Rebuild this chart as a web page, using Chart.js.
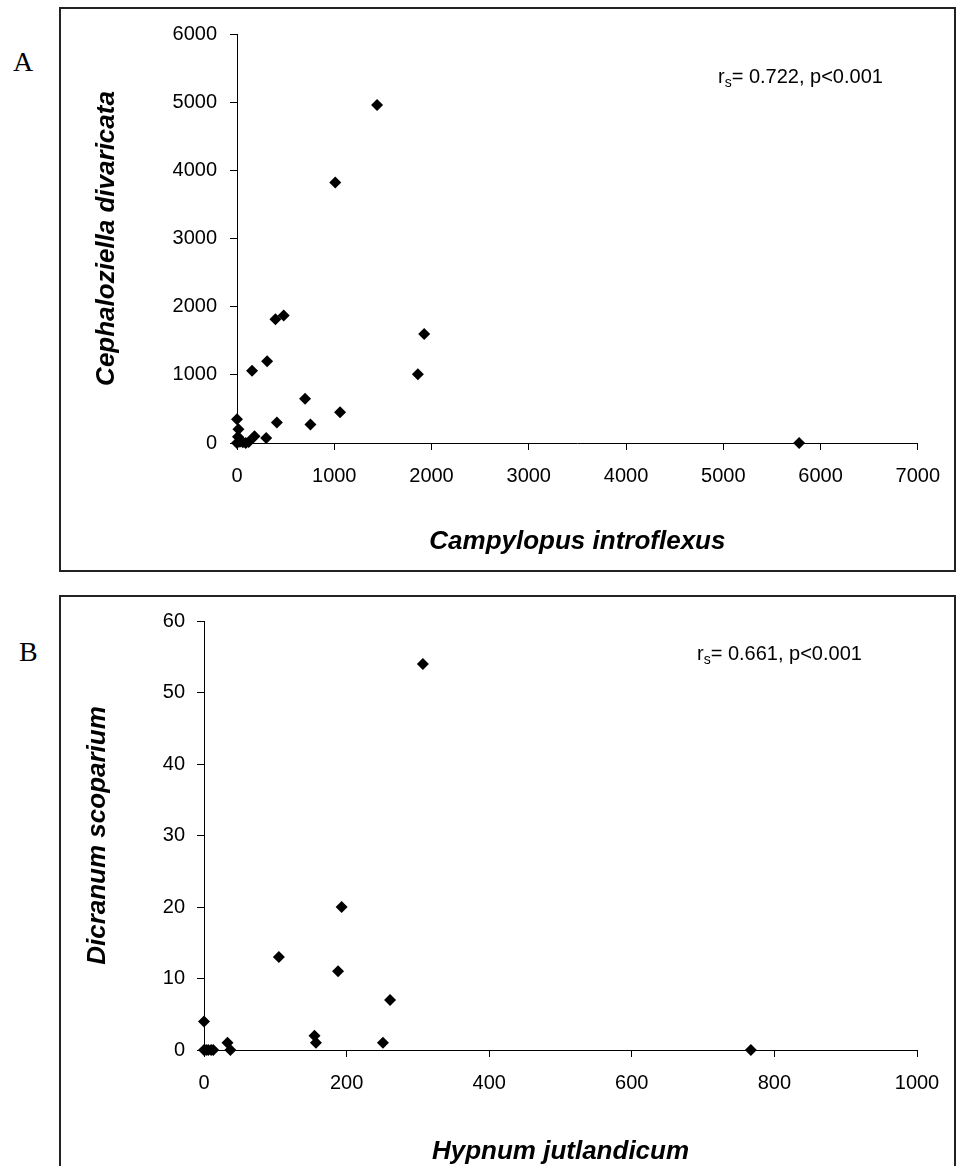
<!DOCTYPE html>
<html>
<head>
<meta charset="utf-8">
<script src="https://cdn.jsdelivr.net/npm/chart.js@4.4.0/dist/chart.umd.min.js"></script>
<style>
  html, body { margin: 0; padding: 0; background: #fff; overflow: hidden; }
  body { width: 956px; height: 1166px; position: relative; font-family: "Liberation Sans", Arial, sans-serif; }
  .panel { position: absolute; left: 59px; border: 2px solid #222; background: #fff; }
  #panelA { top: 7px; width: 893px; height: 561px; }
  #panelB { top: 595px; width: 893px; height: 575px; }
  .panel canvas { display: block; }
  .letter { position: absolute; font-family: "Liberation Serif", "Times New Roman", serif; font-size: 28px; color: #000; }
  .stat { position: absolute; font-size: 20px; line-height: 20px; color: #000; white-space: nowrap; }
  .stat sub { font-size: 14px; vertical-align: -4px; line-height: 0; }
</style>
</head>
<body>
<div class="letter" style="left:13px; top:46px;">A</div>
<div class="letter" style="left:19px; top:636px;">B</div>

<div class="panel" id="panelA"><canvas id="chartA" width="893" height="561"></canvas></div>
<div class="panel" id="panelB"><canvas id="chartB" width="893" height="575"></canvas></div>

<div class="stat" style="left:718px; top:66px;">r<sub>s</sub>= 0.722, p&lt;0.001</div>
<div class="stat" style="left:697px; top:643px;">r<sub>s</sub>= 0.661, p&lt;0.001</div>

<script>
// Panel A: Campylopus introflexus (x) vs Cephaloziella divaricata (y)
const campylopus = [0, 30, 60, 90, 120, 0, 15, 10, 180, 300, 155, 310, 395, 480, 410, 700, 755, 1060, 1860, 1925, 1440, 1010, 5780];
const cephaloziella = [0, 20, 10, 0, 15, 350, 200, 90, 100, 75, 1060, 1200, 1815, 1870, 300, 650, 270, 450, 1010, 1600, 4960, 3820, 0];

// Panel B: Hypnum jutlandicum (x) vs Dicranum scoparium (y)
const hypnum = [0, 3, 6, 10, 13, 0, 33, 37, 105, 155, 157, 188, 193, 251, 261, 307, 767];
const dicranum = [0, 0, 0, 0, 0, 4, 1, 0, 13, 2, 1, 11, 20, 1, 7, 54, 0];

const axisFont = { family: "'Liberation Sans', Arial, sans-serif", size: 20 };
const titleFont = { family: "'Liberation Sans', Arial, sans-serif", size: 26, weight: 'bold', style: 'italic' };

function toPoints(xs, ys) {
    return xs.map((x, i) => ({ x: x, y: ys[i] }));
}

// plain numbers, no thousands separator
const plain = v => String(v);

function makeScatter(canvasId, opts) {
    const ctx = document.getElementById(canvasId).getContext('2d');
    return new Chart(ctx, {
        type: 'scatter',
        data: {
            datasets: [{
                data: toPoints(opts.xs, opts.ys),
                backgroundColor: '#000',
                borderColor: '#000',
                borderWidth: 0,
                pointStyle: 'rectRot',
                pointRadius: 6,
                clip: false
            }]
        },
        options: {
            responsive: false,
            animation: false,
            layout: { padding: { left: 0, top: opts.padTop, right: opts.padRight, bottom: 0 } },
            plugins: { legend: { display: false }, tooltip: { enabled: false } },
            scales: {
                x: {
                    type: 'linear',
                    min: 0,
                    max: opts.xMax,
                    afterFit: s => { s.height = opts.xHeight; },
                    border: { display: true, color: '#000', width: 1 },
                    grid: { display: true, drawOnChartArea: false, drawTicks: true, tickLength: 7, color: '#000' },
                    ticks: { stepSize: opts.xStep, color: '#000', font: axisFont, padding: 14, maxRotation: 0, callback: plain },
                    title: { display: true, text: opts.xTitle, color: '#000', font: titleFont, padding: { top: 0, bottom: opts.xTitlePad } }
                },
                y: {
                    type: 'linear',
                    min: 0,
                    max: opts.yMax,
                    afterFit: s => { s.width = opts.yWidth; },
                    border: { display: true, color: '#000', width: 1 },
                    grid: { display: true, drawOnChartArea: false, drawTicks: true, tickLength: 7, color: '#000' },
                    ticks: { stepSize: opts.yStep, color: '#000', font: axisFont, padding: opts.yTickPad, callback: plain },
                    title: { display: true, text: opts.yTitle, color: '#000', font: titleFont, padding: { top: opts.yTitlePad, bottom: 0 } }
                }
            }
        }
    });
}

makeScatter('chartA', {
    xs: campylopus, ys: cephaloziella,
    xMax: 7000, xStep: 1000, yMax: 6000, yStep: 1000,
    xTitle: 'Campylopus introflexus', yTitle: 'Cephaloziella divaricata',
    padTop: 23, padRight: 36, xHeight: 127, yWidth: 176,
    xTitlePad: 13, yTitlePad: 30, yTickPad: 13
});

makeScatter('chartB', {
    xs: hypnum, ys: dicranum,
    xMax: 1000, xStep: 200, yMax: 60, yStep: 10,
    xTitle: 'Hypnum jutlandicum', yTitle: 'Dicranum scoparium',
    padTop: 23, padRight: 37, xHeight: 122, yWidth: 143,
    xTitlePad: 5, yTitlePad: 21, yTickPad: 12
});
</script>
</body>
</html>
